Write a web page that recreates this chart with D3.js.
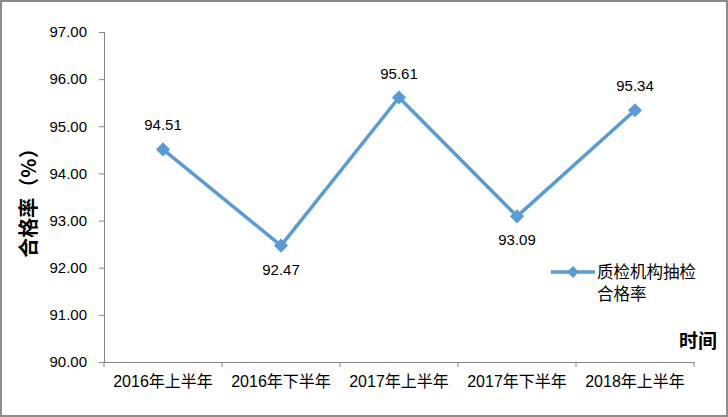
<!DOCTYPE html>
<html><head><meta charset="utf-8">
<script src="https://cdn.jsdelivr.net/npm/d3@7"></script>
<style>body{margin:0;background:#fff}svg{display:block}</style>
</head><body>
<script>
const categories = ["2016年上半年","2016年下半年","2017年上半年","2017年下半年","2018年上半年"];
const values = [94.51, 92.47, 95.61, 93.09, 95.34];
const labelPos = ["above","below","above","below","above"];
const yTicks = [90,91,92,93,94,95,96,97];
const seriesName = ["质检机构抽检","合格率"];
const yTitle = "合格率（%）";
const xTitle = "时间";

(function(){
const W = 728, H = 417;
const svg = d3.select("body").append("svg").attr("width", W).attr("height", H);
svg.append("rect").attr("x",1).attr("y",1).attr("width",W-2).attr("height",H-2)
  .attr("fill","#fff").attr("stroke","#8c8c8c").attr("stroke-width",2);

const pL = 104, pR = 694, pT = 32, pB = 362;
const x = d3.scaleBand().domain(categories).range([pL, pR]);
const y = d3.scaleLinear().domain([90, 97]).range([pB, pT]);
const font = "'Liberation Sans', 'Noto Sans CJK SC', sans-serif";

const yAxis = svg.append("g").attr("transform", `translate(${pL},0)`)
  .call(d3.axisLeft(y).tickValues(yTicks).tickFormat(d3.format(".2f")).tickSize(5).tickPadding(12));
yAxis.selectAll("path,line").attr("stroke","#868686");
yAxis.selectAll("text").attr("font-family",font).attr("font-size",15).attr("fill","#000");

const xAxis = svg.append("g").attr("transform", `translate(0,${pB})`)
  .call(d3.axisBottom(x).tickSize(0).tickPadding(14));
xAxis.select("path").attr("stroke","#868686");
xAxis.selectAll("text").attr("font-family",font).attr("font-size",16).attr("fill","#000");
const bounds = categories.map(c => x(c)).concat([pR]);
svg.append("g").selectAll("line").data(bounds).join("line")
  .attr("x1",d=>d).attr("x2",d=>d).attr("y1",pB).attr("y2",pB+5)
  .attr("stroke","#868686");

const cx = c => x(c) + x.bandwidth()/2;
const line = d3.line().x((d,i)=>cx(categories[i])).y(d=>y(d));
svg.append("path").datum(values).attr("d", line).attr("fill","none")
  .attr("stroke","#5B9BD5").attr("stroke-width",3.5).attr("stroke-linejoin","round");

const diamond = d3.symbol().type(d3.symbolSquare).size(100);
svg.append("g").selectAll("path").data(values).join("path")
  .attr("d", diamond)
  .attr("transform",(d,i)=>`translate(${cx(categories[i])},${y(d)}) rotate(45)`)
  .attr("fill","#5B9BD5");

svg.append("g").selectAll("text").data(values).join("text")
  .attr("x",(d,i)=>cx(categories[i]))
  .attr("y",(d,i)=> y(d) + (labelPos[i]==="above" ? -19 : 29))
  .attr("text-anchor","middle").attr("font-family",font).attr("font-size",15)
  .text(d=>d.toFixed(2));

svg.append("text").attr("transform","translate(36,198) rotate(-90)")
  .attr("text-anchor","middle").attr("font-family","'Noto Sans CJK SC', serif")
  .attr("font-weight","bold").attr("font-size",20).text(yTitle);

svg.append("text").attr("x",717).attr("y",348).attr("text-anchor","end")
  .attr("font-family","'Noto Sans CJK SC', sans-serif").attr("font-weight","bold")
  .attr("font-size",19).text(xTitle);

const lg = svg.append("g");
lg.append("line").attr("x1",551).attr("x2",595).attr("y1",272).attr("y2",272)
  .attr("stroke","#5B9BD5").attr("stroke-width",3.5);
lg.append("path").attr("d", d3.symbol().type(d3.symbolSquare).size(70)).attr("transform","translate(573,272) rotate(45)").attr("fill","#5B9BD5");
lg.selectAll("text").data(seriesName).join("text")
  .attr("x",597).attr("y",(d,i)=>278 + i*22)
  .attr("font-family","'Noto Sans CJK SC', sans-serif").attr("font-size",16.5).text(d=>d);
})();
</script>
</body></html>
